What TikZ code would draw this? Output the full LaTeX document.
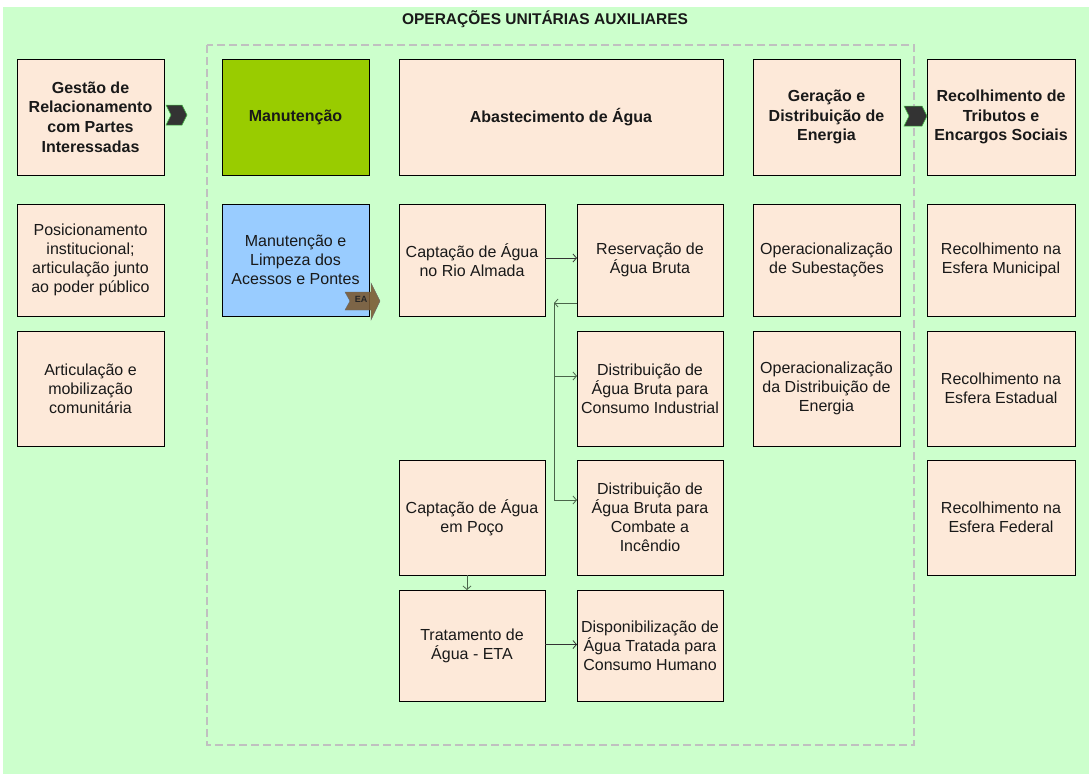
\documentclass[tikz,border=0pt]{standalone}
\usepackage{fontspec}
\setmainfont{Liberation Sans}
\usetikzlibrary{arrows.meta}
\definecolor{bg}{HTML}{CCFFCC}
\definecolor{peach}{HTML}{FDE9D9}
\definecolor{mgreen}{HTML}{99CC00}
\definecolor{mblue}{HTML}{99CCFF}
\definecolor{dashgray}{HTML}{C0C0C0}
\definecolor{chev}{HTML}{333333}
\definecolor{eabrown}{HTML}{7B5A33}
\definecolor{connc}{HTML}{333333}
\definecolor{conng}{HTML}{4A654A}
\tikzset{
 box/.style={draw=black,line width=0.9pt,fill=peach,align=center,inner sep=0pt,outer sep=0pt,font=\fontsize{16}{19}\selectfont,text=black!90},
 bbox/.style={box,font=\fontsize{16}{19.8}\selectfont\bfseries},
 conn/.style={draw=connc,line width=0.8pt,-{Straight Barb[length=3.5pt,width=8pt]}},
 conng/.style={conn,draw=conng},
 chevron/.style={fill=chev,draw=green!45!gray,line width=0.5pt},
}
\newcommand\mybox[7][box]{\node[#1,minimum width={(#4-#2)*1pt},minimum height={(#5-#3)*1pt}] (#6) at ({(#2+#4)/2},{(#3+#5)/2}) {#7};}
\begin{document}
\begin{tikzpicture}[x=1pt,y=-1pt]
\useasboundingbox (0,0) rectangle (1089,774);
\fill[white] (0,0) rectangle (1089,774);
\fill[bg] (3,7) rectangle (1089,774);
\node[font=\fontsize{15.5}{18}\selectfont\bfseries,text=black!90] (title) at (545,19) {OPERAÇÕES UNITÁRIAS AUXILIARES};
\draw[dashgray,line width=2pt,dash pattern=on 8pt off 4pt] (207,45) rectangle (914,745);
% left column
\mybox[bbox]{17}{59}{164}{175}{g1}{Gestão de\\Relacionamento\\com Partes\\Interessadas}
\mybox{17}{204}{164}{316}{g2}{Posicionamento\\institucional;\\articulação junto\\ao poder público}
\mybox{17}{331}{164}{446}{g3}{Articulação e\\mobilização\\comunitária}
% manutencao
\mybox[bbox,fill=mgreen]{222}{59}{369}{175}{man}{Manutenção}
\mybox[box,fill=mblue]{222}{204}{369}{316}{mlp}{Manutenção e\\Limpeza dos\\Acessos e Pontes}
% abastecimento
\mybox[bbox]{399}{59}{723}{175}{aba}{Abastecimento de Água}
\mybox{399}{204}{545}{316}{rio}{Captação de Água\\no Rio Almada}
\mybox{577}{204}{723}{316}{res}{Reservação de\\Água Bruta}
\mybox{577}{331}{723}{446}{ind}{Distribuição de\\Água Bruta para\\Consumo Industrial}
\mybox{399}{460}{545}{575}{poc}{Captação de Água\\em Poço}
\mybox{577}{460}{723}{575}{inc}{Distribuição de\\Água Bruta para\\Combate a\\Incêndio}
\mybox{399}{590}{545}{701}{eta}{Tratamento de\\Água - ETA}
\mybox{577}{590}{723}{701}{dis}{Disponibilização de\\Água Tratada para\\Consumo Humano}
% energia
\mybox[bbox]{753}{59}{900}{175}{ger}{Geração e\\Distribuição de\\Energia}
\mybox{753}{204}{900}{316}{sub}{Operacionalização\\de Subestações}
\mybox{753}{331}{900}{446}{den}{Operacionalização\\da Distribuição de\\Energia}
% tributos
\mybox[bbox]{927}{59}{1075}{175}{rec}{Recolhimento de\\Tributos e\\Encargos Sociais}
\mybox{927}{204}{1075}{316}{rmu}{Recolhimento na\\Esfera Municipal}
\mybox{927}{331}{1075}{446}{rest}{Recolhimento na\\Esfera Estadual}
\mybox{927}{460}{1075}{575}{rfe}{Recolhimento na\\Esfera Federal}
% chevrons
\filldraw[chevron] (166,105) -- (182,105) -- (187,115) -- (182,125) -- (166,125) -- (171,115) -- cycle;
\filldraw[chevron] (904,106) -- (922,106) -- (927,116) -- (922,126) -- (904,126) -- (909,116) -- cycle;
% EA arrow
\filldraw[fill=eabrown,fill opacity=0.9,draw=black!60,line width=0.4pt] (345,292) -- (371,292) -- (371,283) -- (380,301) -- (371,320) -- (371,310) -- (345,310) -- (350,301) -- cycle;
\node[font=\fontsize{9}{10}\selectfont\bfseries,text=black!85,inner sep=0pt] (ea) at (361,299) {EA};
% connectors
\draw[conn] ([yshift=2pt]rio.east) -- ([yshift=2pt]rio.east -| res.west);
\coordinate (j) at (554,303);
\coordinate (b1) at (554,376);
\coordinate (b2) at (554,500);
\draw[conng] (res.west |- j) -- (j);
\draw[conng,-] (j) -- (b2);
\draw[conng] (b1) -- (b1 -| ind.west);
\draw[conng] (b2) -- (b2 -| inc.west);
\draw[conng] ([xshift=-5pt]poc.south) -- ([xshift=-5pt]poc.south |- eta.north);
\draw[conn] ([yshift=1pt]eta.east) -- ([yshift=1pt]eta.east -| dis.west);
\end{tikzpicture}
\end{document}
